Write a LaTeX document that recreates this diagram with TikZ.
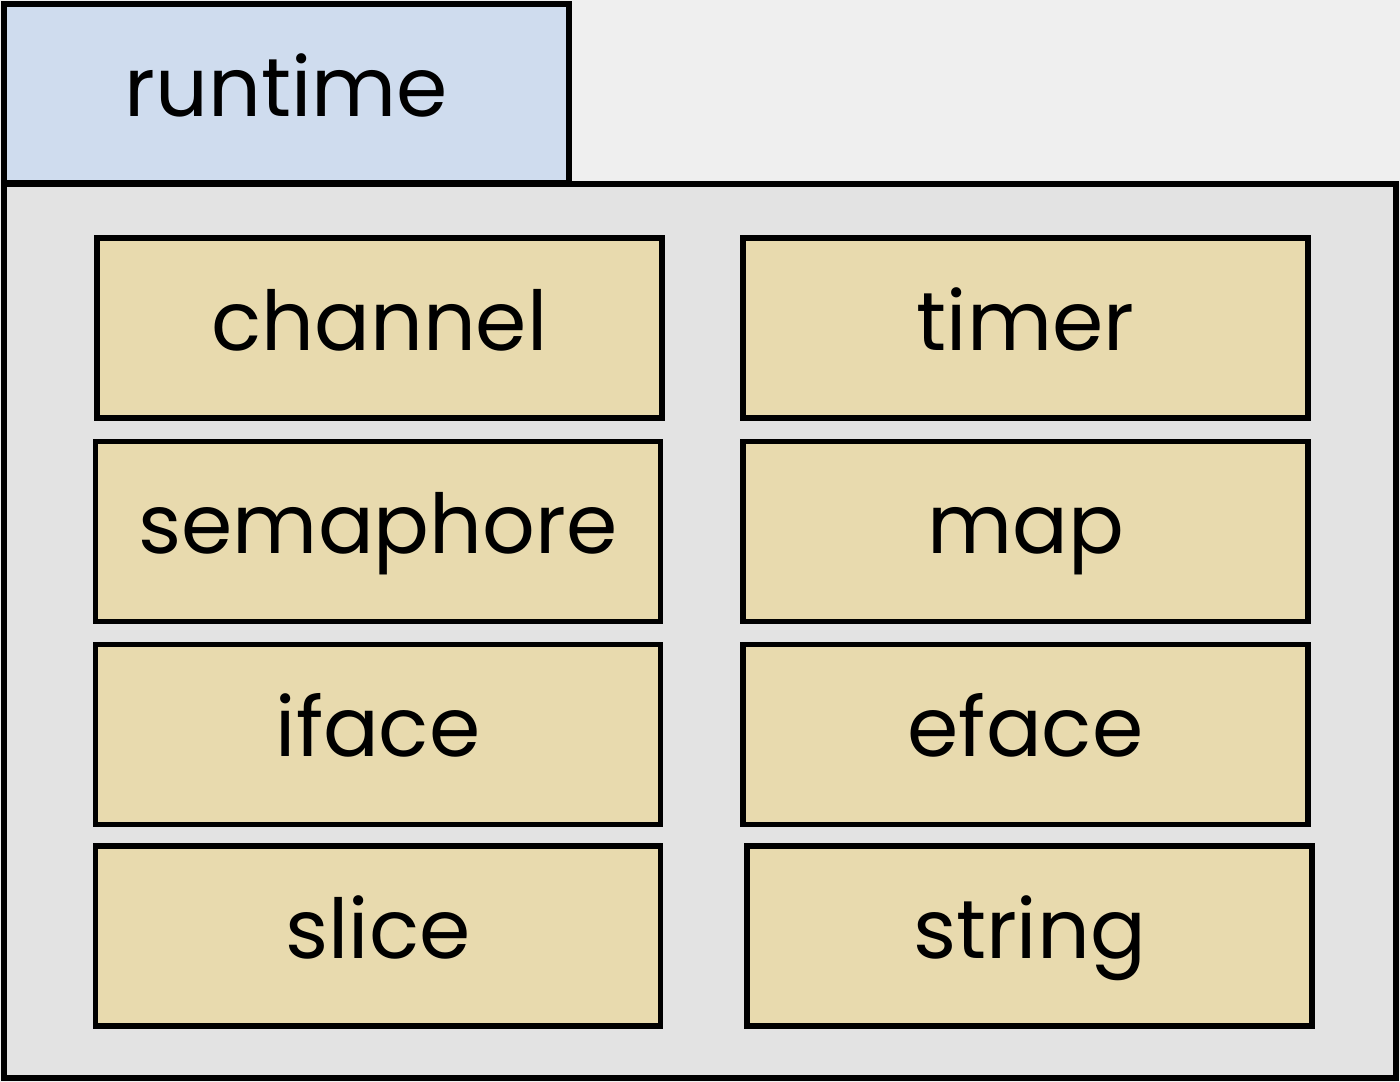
\documentclass[tikz,border=0pt]{standalone}
\usepackage{fontspec}
\setmainfont{Poppins}
\definecolor{pagebg}{HTML}{EFEFEF}
\definecolor{tabfill}{HTML}{CFDCEE}
\definecolor{pkgfill}{HTML}{E3E3E3}
\definecolor{itemfill}{HTML}{E8DAAE}
\begin{document}
\begin{tikzpicture}[x=0.02cm,y=-0.02cm,
  frame/.style={draw=black,line width=3.2pt},
  labelfont/.style={font=\fontsize{47}{52}\selectfont},
  item/.style={frame,fill=itemfill,rectangle,inner sep=0pt,
    minimum width=11.3cm,minimum height=3.6cm,
    text height=0.88cm,text depth=0pt,labelfont}]
  % canvas
  \fill[pagebg] (0,0) rectangle (1400,1082);
  \useasboundingbox (0,0) rectangle (1400,1082);
  % package tab and body
  \node[frame,fill=tabfill,rectangle,inner sep=0pt,minimum width=11.3cm,minimum height=3.58cm,
        text height=0.94cm,text depth=0pt,labelfont] (tab) at (286.5,93.5) {runtime\hspace{0.6cm}};
  \node[frame,fill=pkgfill,rectangle,inner sep=0pt,minimum width=27.84cm,minimum height=17.88cm] (body) at (700,631) {};
  % contained items
  \node[item] (channel)   at (379.5,328) {channel};
  \node[item] (timer)     at (1025.5,328) {timer};
  \node[item] (semaphore) at (378,531.5) {semaphore};
  \node[item] (map)       at (1025.5,531.5) {map};
  \node[item] (iface)     at (378,734.5) {iface\hspace{0.44cm}};
  \node[item] (eface)     at (1025.5,734.5) {eface};
  \node[item] (slice)     at (378,936) {slice\hspace{0.88cm}};
  \node[item] (string)    at (1029.5,936) {string};
\end{tikzpicture}
\end{document}
